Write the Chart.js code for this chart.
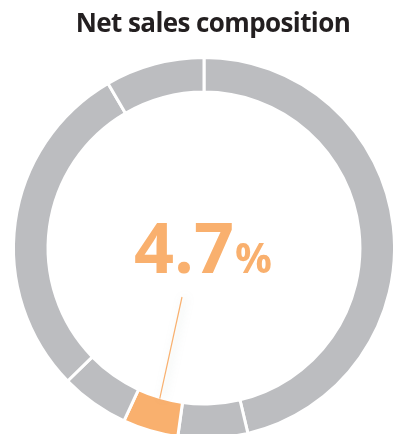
<!DOCTYPE html>
<html>
<head>
<meta charset="utf-8">
<script src="https://cdn.jsdelivr.net/npm/chart.js@4.4.1/dist/chart.umd.min.js"></script>
<style>
  html, body { margin: 0; padding: 0; background: #fff; overflow: hidden; }
  #wrap { position: relative; width: 393px; height: 440px; }
</style>
</head>
<body>
<div id="wrap"><canvas id="myChart"></canvas></div>
<script>
const title = 'Net sales composition';
const labels = ['Segment 1', 'Segment 2', 'Segment 3', 'Segment 4', 'Segment 5', 'Segment 6'];
const shares = [46.3, 5.9, 4.7, 5.8, 28.9, 8.4];
const highlight = 2;

const grey = '#bcbdc0';
const orange = '#f9b06e';

const colors = [];
for (i = 0; i < shares.length; i++) {
  colors.push(i == highlight ? orange : grey);
}

// title, big percentage in the middle and a leader line down to the highlighted arc
const centerLabel = {
  id: 'centerLabel',
  afterDatasetsDraw(chart) {
    const ctx = chart.ctx;
    const arc = chart.getDatasetMeta(0).data[highlight];
    const p = arc.getProps(['x', 'y', 'startAngle', 'endAngle', 'innerRadius'], true);
    const cx = p.x, cy = p.y;
    const mid = (p.startAngle + p.endAngle) / 2;
    const r = p.innerRadius + 1;

    ctx.save();
    ctx.fillStyle = '#231f20';
    ctx.textAlign = 'center';
    ctx.textBaseline = 'alphabetic';
    ctx.font = 'bold 26px "Open Sans"';
    ctx.letterSpacing = '-0.6px';
    ctx.fillText(title, 213, 32);
    ctx.restore();

    ctx.save();
    ctx.strokeStyle = orange;
    ctx.lineWidth = 1.2;
    ctx.shadowColor = 'rgba(130,160,150,0.35)';
    ctx.shadowBlur = 8;
    ctx.shadowOffsetX = 3;
    ctx.beginPath();
    ctx.moveTo(cx - 22, cy + 49);
    ctx.lineTo(cx + Math.cos(mid) * r, cy + Math.sin(mid) * r);
    ctx.stroke();
    ctx.restore();

    ctx.save();
    ctx.fillStyle = orange;
    ctx.textBaseline = 'alphabetic';
    ctx.textAlign = 'left';
    ctx.font = 'bold 70px "Open Sans"';
    ctx.fillText(shares[highlight].toFixed(1), cx - 70, cy + 25);
    ctx.font = 'bold 41px "Open Sans"';
    ctx.fillText('%', cx + 31, cy + 25);
    ctx.restore();
  }
};

const ctx = document.getElementById('myChart').getContext('2d');
const myChart = new Chart(ctx, {
  type: 'doughnut',
  data: {
    labels: labels,
    datasets: [
      {
        data: shares,
        backgroundColor: colors,
        borderColor: '#ffffff',
        borderWidth: 3,
        hoverOffset: 0
      }
    ]
  },
  options: {
    responsive: true,
    maintainAspectRatio: false,
    animation: false,
    radius: 190.5,
    cutout: 153.5,
    layout: { padding: { left: 15, right: 0, top: 59, bottom: 3 } },
    plugins: {
      legend: { display: false },
      tooltip: { enabled: false },
      title: { display: false }
    }
  },
  plugins: [centerLabel]
});
</script>
</body>
</html>
